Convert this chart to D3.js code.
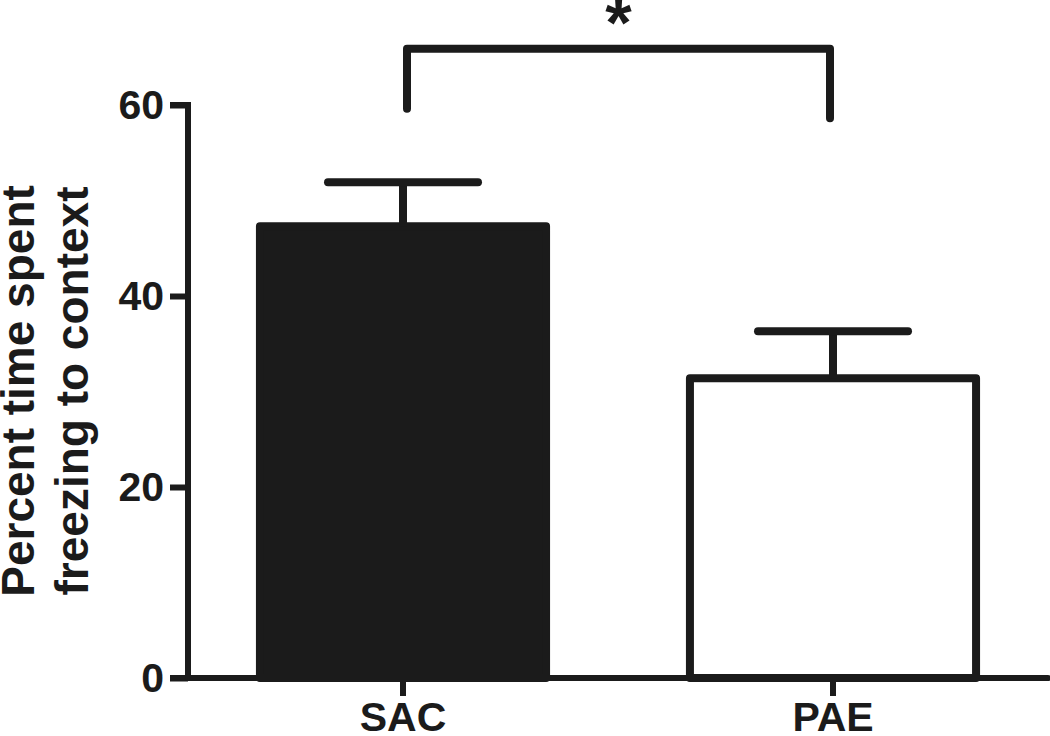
<!DOCTYPE html>
<html>
<head>
<meta charset="utf-8">
<script src="https://cdn.jsdelivr.net/npm/d3@7"></script>
<style>
  html, body { margin: 0; padding: 0; background: #fff; }
  svg { display: block; }
  text { font-family: "Liberation Sans", Arial, Helvetica, sans-serif; font-weight: bold; fill: #1b1b1b; }
</style>
</head>
<body>
<svg id="chart" width="1050" height="736"></svg>
<script>
const categories = ["SAC", "PAE"];
const means = [47.3, 31.4];
const sems = [4.6, 4.9];
const fills = ["#1b1b1b", "#ffffff"];
const yTicks = [0, 20, 40, 60];
const yTitleLines = ["Percent time spent", "freezing to context"];
const sigBracket = { from: "SAC", to: "PAE", top: 65.9, leftEnd: 59.6, rightEnd: 58.6, label: "*" };

const ink = "#1b1b1b";
const svg = d3.select("#chart");
const plotLeft = 188, plotRight = 1048, plotTop = 105, plotBottom = 678;

const x = d3.scaleBand().domain(categories).range([plotLeft, plotRight]).paddingInner(0.316).paddingOuter(0.158);
const y = d3.scaleLinear().domain([0, 60]).range([plotBottom, plotTop]);

// Bars
const barG = svg.append("g");
barG.selectAll("rect").data(categories).join("rect")
  .attr("x", d => x(d) + 4)
  .attr("width", x.bandwidth() - 8)
  .attr("y", (d, i) => y(means[i]))
  .attr("height", (d, i) => y(0) - y(means[i]))
  .attr("fill", (d, i) => fills[i])
  .attr("stroke", ink)
  .attr("stroke-width", 8)
  .attr("stroke-linejoin", "round");

// Error bars (upper only)
const capHalf = 75;
const errG = svg.append("g").attr("stroke", ink).attr("stroke-width", 8).attr("stroke-linecap", "round");
categories.forEach((c, i) => {
  const cx = x(c) + x.bandwidth() / 2;
  errG.append("line").attr("x1", cx).attr("x2", cx).attr("y1", y(means[i])).attr("y2", y(means[i] + sems[i])).attr("stroke-linecap", "butt");
  errG.append("line").attr("x1", cx - capHalf).attr("x2", cx + capHalf).attr("y1", y(means[i] + sems[i])).attr("y2", y(means[i] + sems[i]));
});

// Y axis
const yAxis = d3.axisLeft(y).tickValues(yTicks).tickSize(18).tickPadding(6).tickFormat(d3.format("d"));
const yg = svg.append("g").attr("transform", `translate(${plotLeft},0)`).call(yAxis);
yg.select(".domain").attr("d", `M-18,${plotTop}H0V${plotBottom}H-18`).attr("stroke", ink).attr("stroke-width", 6).attr("fill", "none");
yg.selectAll(".tick line").attr("stroke", ink).attr("stroke-width", 6);
yg.selectAll(".tick text").attr("font-size", 41).attr("fill", ink)
  .style("font-family", '"Liberation Sans", Arial, sans-serif').style("font-weight", "bold");

// X axis
const xAxis = d3.axisBottom(x).tickSize(18).tickPadding(6);
const xg = svg.append("g").attr("transform", `translate(0,${plotBottom})`).call(xAxis);
xg.select(".domain").attr("d", `M${plotLeft},0H${plotRight}`).attr("stroke", ink).attr("stroke-width", 6).attr("stroke-linecap", "round");
xg.selectAll(".tick line").attr("stroke", ink).attr("stroke-width", 6);
xg.selectAll(".tick text").attr("font-size", 41).attr("fill", ink)
  .style("font-family", '"Liberation Sans", Arial, sans-serif').style("font-weight", "bold");

// Y title
const yTitle = svg.append("text")
  .attr("transform", `translate(0,391) rotate(-90)`)
  .attr("text-anchor", "middle")
  .attr("font-size", 46);
yTitle.selectAll("tspan").data(yTitleLines).join("tspan")
  .attr("x", 0)
  .attr("y", (d, i) => 34 + i * 54)
  .text(d => d);

// Significance bracket
const bx1 = x(sigBracket.from) + x.bandwidth() / 2 + 4;
const bx2 = x(sigBracket.to) + x.bandwidth() / 2 - 3;
svg.append("path")
  .attr("d", `M${bx1},${y(sigBracket.leftEnd)}V${y(sigBracket.top)}H${bx2}V${y(sigBracket.rightEnd)}`)
  .attr("fill", "none").attr("stroke", ink).attr("stroke-width", 8)
  .attr("stroke-linecap", "round").attr("stroke-linejoin", "round");
svg.append("text")
  .attr("x", (bx1 + bx2) / 2)
  .attr("y", 46)
  .attr("text-anchor", "middle")
  .attr("font-size", 68)
  .text(sigBracket.label);
</script>
</body>
</html>
